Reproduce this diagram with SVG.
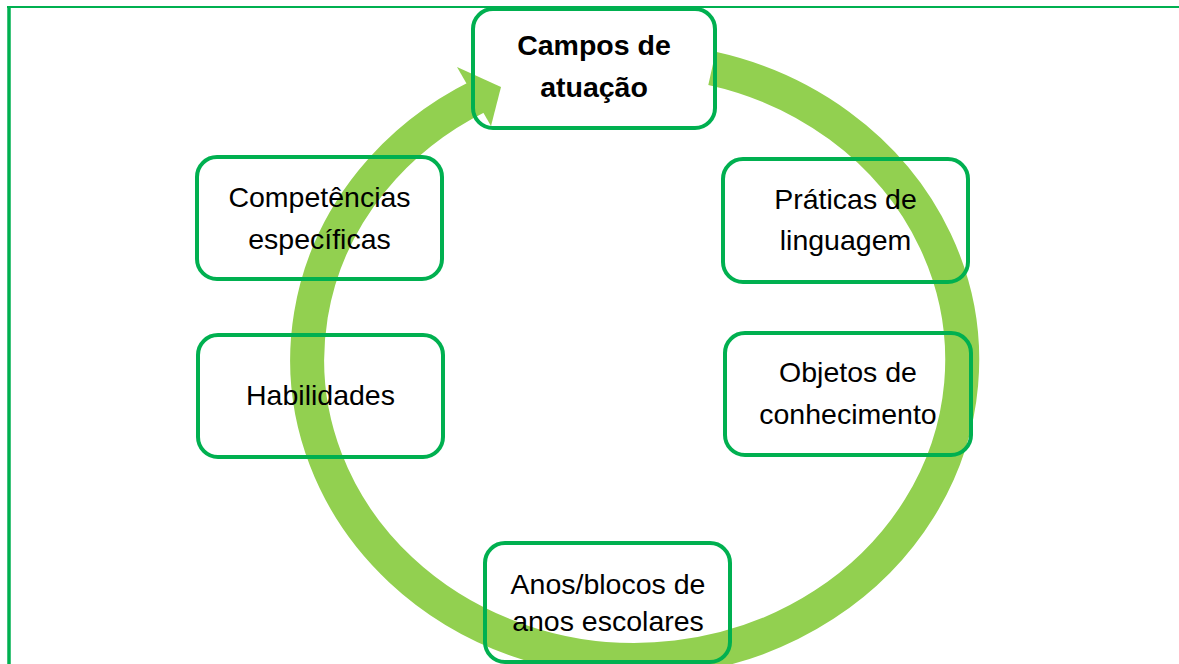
<svg xmlns="http://www.w3.org/2000/svg" width="1179" height="664" viewBox="0 0 1179 664">
<style>
.box{fill:none;stroke:#00B050;stroke-width:4}
.t{font-family:"Liberation Sans",Arial,sans-serif;font-size:28.5px;fill:#000;text-anchor:middle}
.b{font-weight:bold}
.frame{stroke:#00B050;fill:none}
</style>
<rect width="1179" height="664" fill="#fff"/>
<g id="frame">
<line class="frame" x1="7" y1="7" x2="1179" y2="7" stroke-width="2"/>
<line class="frame" x1="9" y1="6" x2="9" y2="664" stroke-width="3.5"/>
</g>
<g id="connectors">
<path d="M712,68.4 A327.5,300 0 1 1 479,96" fill="none" stroke="#92D050" stroke-width="34" stroke-linecap="butt"/>
<polygon points="457,67 501,87 491,126" fill="#92D050"/>
</g>
<g id="campos">
<rect class="box" x="473" y="9" width="242" height="119" rx="20"/>
<text class="t b" x="594" y="55">Campos de</text>
<text class="t b" x="594" y="97">atuação</text>
</g>
<g id="competencias">
<rect class="box" x="197" y="157" width="245" height="122" rx="20"/>
<text class="t" x="319.5" y="207">Competências</text>
<text class="t" x="319.5" y="248.5">específicas</text>
</g>
<g id="habilidades">
<rect class="box" x="198" y="335" width="245" height="122" rx="20"/>
<text class="t" x="320.5" y="405">Habilidades</text>
</g>
<g id="praticas">
<rect class="box" x="723" y="159" width="245" height="123" rx="20"/>
<text class="t" x="845.5" y="208.5">Práticas de</text>
<text class="t" x="845.5" y="250">linguagem</text>
</g>
<g id="objetos">
<rect class="box" x="725" y="333" width="246" height="122" rx="20"/>
<text class="t" x="848" y="382">Objetos de</text>
<text class="t" x="848" y="423.5">conhecimento</text>
</g>
<g id="anos">
<rect class="box" x="485" y="543" width="245" height="119" rx="20"/>
<text class="t" x="608" y="593.5">Anos/blocos de</text>
<text class="t" x="608" y="631">anos escolares</text>
</g>
</svg>
